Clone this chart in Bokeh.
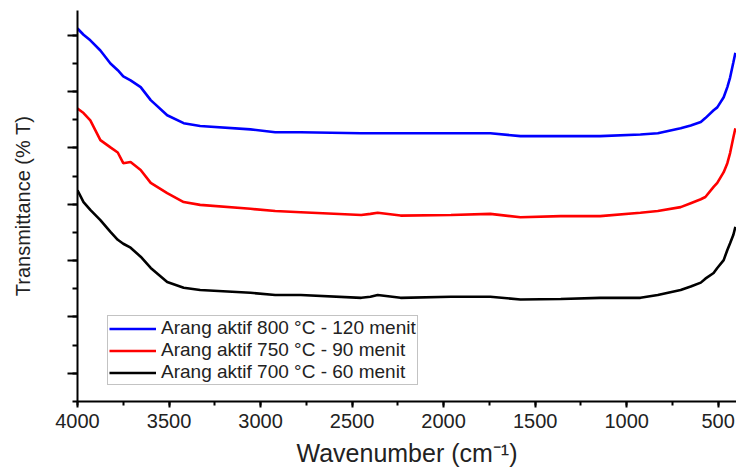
from bokeh.plotting import figure
from bokeh.models import Range1d, SingleIntervalTicker, CustomJSTickFormatter, Legend, LegendItem
from bokeh.embed import file_html
from bokeh.resources import INLINE

wavenumber = [4000, 3967, 3930, 3875, 3820, 3780, 3750, 3710, 3655, 3600, 3510, 3420, 3330,
              3055, 2920, 2780, 2450, 2400, 2360, 2235, 1960, 1745, 1580, 1360, 1145, 925,
              830, 705, 650, 595, 570, 525, 505, 470, 450, 435, 417, 406]

t_800 = [71.2, 70.1, 69.1, 67.3, 65.0, 63.8, 62.7, 62.0, 60.8, 58.5, 55.8, 54.4, 53.9,
         53.3, 52.8, 52.8, 52.6, 52.6, 52.6, 52.6, 52.6, 52.6, 52.1, 52.1, 52.1, 52.4,
         52.6, 53.5, 54.0, 54.6, 55.3, 56.7, 57.2, 59.0, 60.8, 62.5, 65.2, 66.9]

t_750 = [57.0, 56.2, 54.9, 51.4, 50.1, 49.2, 47.3, 47.5, 46.1, 43.8, 42.0, 40.4, 39.9,
         39.2, 38.8, 38.6, 38.1, 38.3, 38.5, 38.0, 38.1, 38.3, 37.7, 37.9, 37.9, 38.5,
         38.8, 39.5, 40.2, 40.9, 41.3, 43.1, 43.8, 45.7, 47.3, 49.1, 51.9, 53.5]

t_700 = [42.5, 40.4, 39.0, 37.2, 35.1, 33.7, 33.0, 32.3, 30.7, 28.7, 26.2, 25.2, 24.8,
         24.3, 23.9, 23.9, 23.4, 23.6, 23.9, 23.4, 23.6, 23.6, 23.1, 23.2, 23.4, 23.4,
         23.9, 24.8, 25.4, 26.1, 26.8, 27.8, 28.7, 30.1, 31.9, 33.1, 34.6, 36.0]

labels = ["Arang aktif 800 °C - 120 menit",
          "Arang aktif 750 °C - 90 menit",
          "Arang aktif 700 °C - 60 menit"]
colors = ["#0000FF", "#FF0000", "#000000"]

FONT = "Liberation Sans"

p = figure(width=736, height=469, output_backend="svg", toolbar_location=None,
           x_range=Range1d(4000, 400), y_range=Range1d(5, 74.4),
           min_border_left=77, min_border_right=0, min_border_top=10, min_border_bottom=67)
p.outline_line_color = None
p.grid.visible = False
p.background_fill_color = "white"

renderers = []
for ys, c in zip([t_800, t_750, t_700], colors):
    r = p.line(wavenumber, ys, line_color=c, line_width=2.6)
    renderers.append(r)

legend = Legend(items=[LegendItem(label=l, renderers=[r]) for l, r in zip(labels, renderers)],
                location=(30, 16))
legend.label_text_font = FONT
legend.label_text_font_size = "19px"
legend.label_text_color = "#222222"
legend.label_height = 19
legend.glyph_height = 19
legend.glyph_width = 47
legend.label_standoff = 5
legend.spacing = 0
legend.padding = 1
legend.margin = 0
legend.border_line_color = "#888888"
legend.border_line_width = 1
legend.background_fill_alpha = 1
p.add_layout(legend, "center")

# x axis
xa = p.xaxis[0]
xa.ticker = SingleIntervalTicker(interval=500, num_minor_ticks=2)
xa.axis_line_width = 2
xa.major_tick_line_width = 2
xa.minor_tick_line_width = 2
xa.major_tick_out = 6
xa.major_tick_in = 0
xa.minor_tick_out = 4
xa.minor_tick_in = 0
xa.major_label_text_font = FONT
xa.major_label_text_font_size = "20px"
xa.major_label_text_color = "#222222"
xa.major_label_standoff = 6
xa.axis_label = "Wavenumber (cm⁻¹)"
xa.axis_label_text_font = FONT
xa.axis_label_text_font_size = "25px"
xa.axis_label_text_font_style = "normal"
xa.axis_label_text_color = "#222222"
xa.axis_label_standoff = 8

# y axis
ya = p.yaxis[0]
ya.ticker = SingleIntervalTicker(interval=10, num_minor_ticks=2)
ya.formatter = CustomJSTickFormatter(code="return ''")
ya.axis_line_width = 2
ya.major_tick_line_width = 2
ya.minor_tick_line_width = 2
ya.major_tick_out = 10
ya.major_tick_in = 0
ya.minor_tick_out = 5
ya.minor_tick_in = 0
ya.major_label_standoff = 0
ya.axis_label = "Transmittance (% T)"
ya.axis_label_text_font = FONT
ya.axis_label_text_font_size = "20px"
ya.axis_label_text_font_style = "normal"
ya.axis_label_text_color = "#222222"
ya.axis_label_standoff = 34

open("out.html", "w").write(file_html(p, INLINE))
